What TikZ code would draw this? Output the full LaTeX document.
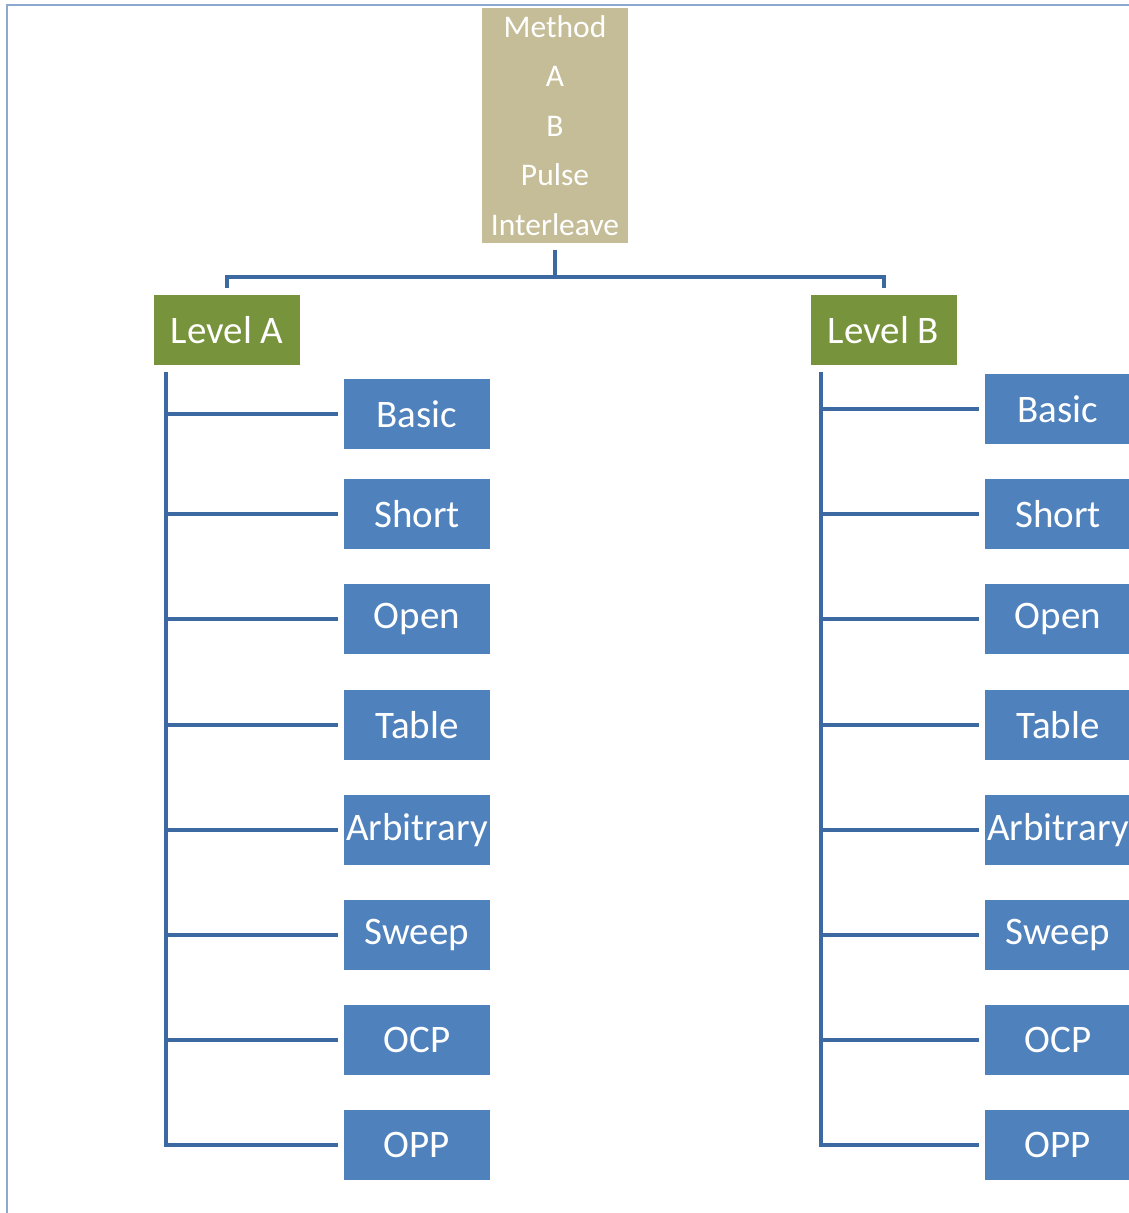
\documentclass[tikz,border=0pt]{standalone}
\usepackage{fontspec}
\setmainfont{Carlito}
\usepackage{tikz}
\definecolor{tan}{HTML}{C4BD97}
\definecolor{olive}{HTML}{77933C}
\definecolor{boxblue}{HTML}{4F81BD}
\definecolor{linkblue}{HTML}{3D69A3}
\definecolor{framecol}{HTML}{8EA9D0}
\begin{document}
\begin{tikzpicture}[x=1pt,y=-1pt,
    box/.style={inner sep=0pt, text=white, minimum width=146pt, minimum height=70pt,
      font=\fontsize{39}{47}\selectfont},
    head/.style={box, fill=tan, minimum height=235pt, align=center,
      font=\fontsize{31.5}{49.5}\selectfont},
    level/.style={box, fill=olive},
    leaf/.style={box, fill=boxblue},
    conn/.style={draw=linkblue, line width=4pt}]
      \useasboundingbox (0,0) rectangle (1129,1213);
      \clip (0,0) rectangle (1129,1213);
      \draw[framecol, line width=1.5pt] (7,5) rectangle (1160,1240);

      \node[head] (method) at (555,125.5) {Method\\A\\B\\Pulse\\Interleave};
      \node[level] (levA) at (227,330) {Level A};
      \node[level] (levB) at (883.5,330) {Level B};
      \coordinate (hub) at (555,277);

      \draw[conn, shorten <=7pt] (method.south) -- (hub);
      \draw[conn, shorten >=7pt] (hub) -| (levA.north);
      \draw[conn, shorten >=7pt] (hub) -| (levB.north);

      \foreach \lbl/\ya/\yb [count=\i] in {Basic/414/409, Short/514/514, Open/619/619,
          Table/725/725, Arbitrary/830/830, Sweep/935/935, OCP/1040/1040, OPP/1145/1145}
      {
        \node[leaf] (a\i) at (417,\ya) {\lbl};
        \node[leaf] (b\i) at (1058,\yb) {\lbl};
        \draw[conn, shorten <=7pt, shorten >=6pt] ([xshift=12pt]levA.south west) |- (a\i.west);
        \draw[conn, shorten <=7pt, shorten >=6pt] ([xshift=11pt]levB.south west) |- (b\i.west);
      }
    \end{tikzpicture}
\end{document}
